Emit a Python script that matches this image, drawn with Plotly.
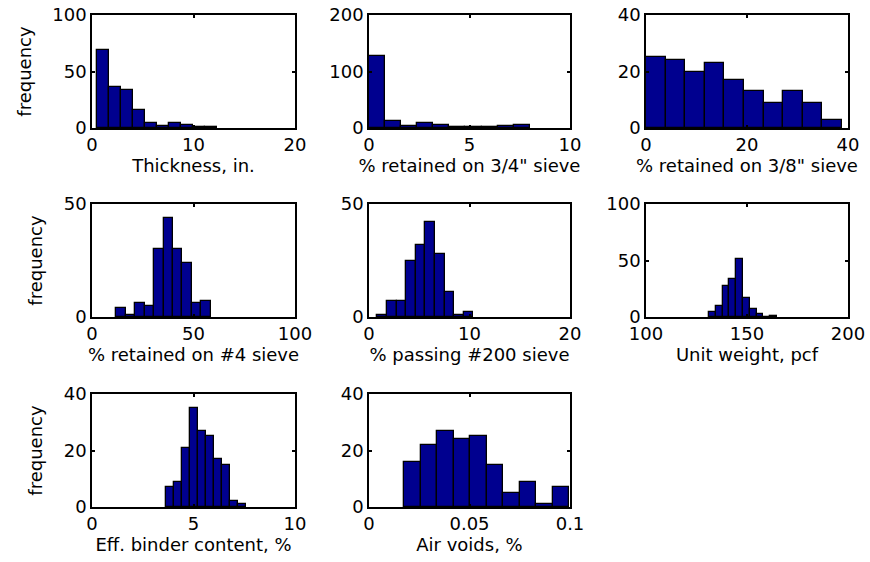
import numpy as np
import plotly.graph_objects as go

# ---- data (histogram bins: first bin left edge, bin width, counts) ----
titles = ["Thickness, in.", "% retained on 3/4\" sieve", "% retained on 3/8\" sieve",
          "% retained on #4 sieve", "% passing #200 sieve", "Unit weight, pcf",
          "Eff. binder content, %", "Air voids, %"]

thick_start, thick_width = 0.46, 1.185
thick_counts = [69, 36, 34, 16, 4, 2, 4, 3, 1, 1]

r34_start, r34_width = 0.0, 0.8
r34_counts = [128, 13, 3, 8, 6, 1, 1, 1, 3, 6]

r38_start, r38_width = 0.0, 3.88
r38_counts = [25, 24, 20, 23, 17, 13, 9, 13, 9, 3]

r4_start, r4_width = 12.0, 4.65
r4_counts = [4, 1, 6, 5, 30, 44, 30, 24, 6, 7]

p200_start, p200_width = 0.83, 0.955
p200_counts = [1, 7, 7, 25, 32, 42, 28, 11, 1, 2]

uw_start, uw_width = 131.2, 3.37
uw_counts = [4, 10, 27, 34, 51, 17, 7, 3, 0, 1]

ab_start, ab_width = 3.63, 0.396
ab_counts = [7, 9, 21, 35, 27, 25, 17, 15, 2, 1]

av_start, av_width = 0.0174, 0.00823
av_counts = [16, 22, 27, 24, 25, 15, 5, 9, 1, 7]

x_ranges = [[0, 20], [0, 10], [0, 40], [0, 100], [0, 20], [100, 200], [0, 10], [0, 0.1]]
y_ranges = [[0, 100], [0, 200], [0, 40], [0, 50], [0, 50], [0, 100], [0, 40], [0, 40]]
x_ticks = [[0, 10, 20], [0, 5, 10], [0, 20, 40], [0, 50, 100], [0, 10, 20],
           [100, 150, 200], [0, 5, 10], [0, 0.05, 0.1]]
x_ticktext = [["0", "10", "20"], ["0", "5", "10"], ["0", "20", "40"], ["0", "50", "100"],
              ["0", "10", "20"], ["100", "150", "200"], ["0", "5", "10"], ["0", "0.05", "0.1"]]
y_ticks = [[0, 50, 100], [0, 100, 200], [0, 20, 40], [0, 50], [0, 50], [0, 50, 100],
           [0, 20, 40], [0, 20, 40]]

hists = [(thick_start, thick_width, thick_counts), (r34_start, r34_width, r34_counts),
         (r38_start, r38_width, r38_counts), (r4_start, r4_width, r4_counts),
         (p200_start, p200_width, p200_counts), (uw_start, uw_width, uw_counts),
         (ab_start, ab_width, ab_counts), (av_start, av_width, av_counts)]

# ---- layout geometry ----
W, H = 870, 562
col_px = [(92, 295), (369, 570), (646, 848)]
row_px = [(15, 128), (204, 317), (394, 507)]

FONT = "DejaVu Sans"
FS = 18
BAR = "#00008F"

fig = go.Figure()
layout = dict(template="none", width=W, height=H, autosize=False,
              margin=dict(l=0, r=0, t=0, b=0, pad=0),
              paper_bgcolor="white", plot_bgcolor="white", showlegend=False,
              font=dict(family=FONT, size=FS, color="black"), bargap=0)

for i, (start, width, counts) in enumerate(hists):
    r, c = divmod(i, 3)
    n = len(counts)
    centers = start + width * (np.arange(n) + 0.5)
    k = "" if i == 0 else str(i + 1)
    fig.add_trace(go.Bar(x=centers, y=counts, width=[width] * n,
                         marker=dict(color=BAR, line=dict(color="black", width=1.3)),
                         xaxis="x" + k, yaxis="y" + k, hoverinfo="x+y"))
    x0, x1 = col_px[c]
    y0, y1 = row_px[r]
    common = dict(showline=True, linecolor="black", linewidth=1.5, mirror="ticks",
                  ticks="inside", ticklen=3, tickcolor="black", tickwidth=1.5,
                  showgrid=False, zeroline=False, automargin=False,
                  tickfont=dict(family=FONT, size=FS, color="black"))
    layout["xaxis" + k] = dict(domain=[x0 / W, x1 / W], range=x_ranges[i],
                               tickvals=x_ticks[i], ticktext=x_ticktext[i],
                               anchor="y" + k,
                               title=dict(text=titles[i], standoff=4,
                                          font=dict(family=FONT, size=FS)),
                               **common)
    ydict = dict(domain=[1 - y1 / H, 1 - y0 / H], range=y_ranges[i],
                 tickvals=y_ticks[i], anchor="x" + k, **common)
    if c == 0:
        ydict["title"] = dict(text="frequency", standoff=16, font=dict(family=FONT, size=FS))
    layout["yaxis" + k] = ydict

fig.update_layout(**layout)
fig.write_html("out.html",
               post_script="document.body.style.margin='0';document.body.style.padding='0';")
